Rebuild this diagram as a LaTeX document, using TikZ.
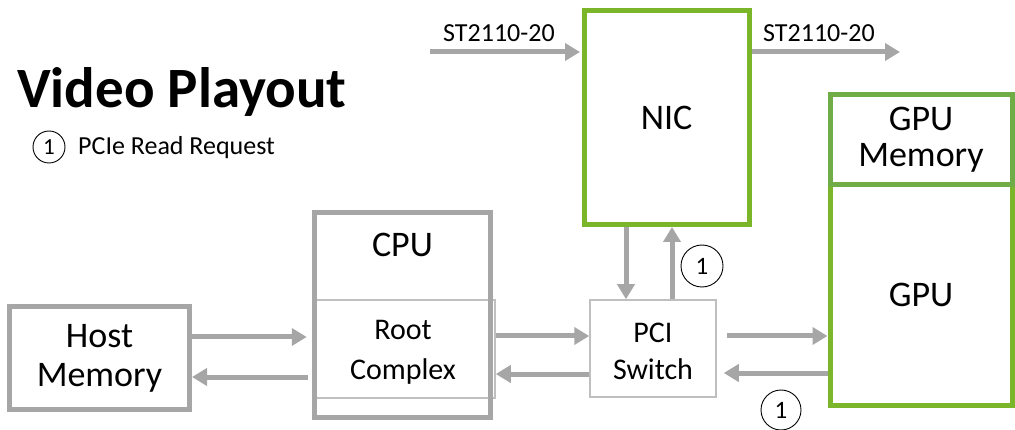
\documentclass[tikz,border=0pt]{standalone}
\usepackage{fontspec}
\setmainfont{Carlito}
\usetikzlibrary{arrows.meta}
\definecolor{arrowgray}{HTML}{A6A6A6}
\definecolor{thingray}{HTML}{BFBFBF}
\definecolor{nvgreen}{HTML}{7AB52A}
\definecolor{memgreen}{HTML}{70AD47}
\begin{document}
\begin{tikzpicture}[x=1pt,y=-1pt,
  flow/.style={line width=5pt, draw=arrowgray, -{Triangle[length=15pt,width=17pt]}},
  graybox/.style={rectangle, draw=arrowgray, line width=5pt, inner sep=0pt, align=center, font=\fontsize{36}{39}\selectfont},
  thinbox/.style={rectangle, draw=thingray, line width=1.5pt, inner sep=0pt, align=center, font=\fontsize{30}{38}\selectfont},
  greenbox/.style={rectangle, draw=nvgreen, line width=5pt, inner sep=0pt, align=center, font=\fontsize{36}{36}\selectfont},
  num/.style={circle, draw=black, line width=0.9pt, inner sep=0pt},
  lbl/.style={inner sep=0pt, anchor=base west}]
\useasboundingbox (0,0) rectangle (1015,430);

% title and legend
\node[lbl, font=\fontsize{57}{60}\selectfont\bfseries] (title) at (17,108) {Video Playout};
\node[num, minimum size=32pt, font=\fontsize{23}{23}\selectfont] (leg) at (49,147) {1};
\node[lbl, font=\fontsize{26}{30}\selectfont] (legtext) at (78,155) {PCIe Read Request};

% boxes
\node[thinbox, minimum width=180.5pt, minimum height=98pt] (rc) at (404.75,349) {};
\node[graybox, minimum width=176pt, minimum height=205pt] (cpu) at (402.5,315) {};
\node[inner sep=0pt, align=center, font=\fontsize{30}{40}\selectfont] (rclabel) at (403,352) {Root\\Complex};
\node[font=\fontsize{36}{39}\selectfont, inner sep=0pt] (cpulabel) at (402.5,245) {CPU};
\node[graybox, minimum width=180pt, minimum height=103pt] (host) at (99.5,358) {Host\\Memory};
\node[thinbox, minimum width=126pt, minimum height=97pt] (sw) at (653,348.5) {};
\node[inner sep=0pt, align=center, font=\fontsize{30}{37}\selectfont] (swlabel) at (653,351) {PCI\\Switch};
\node[greenbox, minimum width=165pt, minimum height=214pt] (nic) at (666.5,117.5) {NIC};
\node[greenbox, minimum width=182pt, minimum height=221pt] (gpu) at (921,295) {GPU};
\node[greenbox, draw=memgreen, minimum width=182pt, minimum height=89.5pt] (gmem) at (921,139.75) {GPU\\Memory};

% external stream
\coordinate (stin) at (430,52);
\coordinate (stout) at (900,52);
\draw[flow, shorten >=1.5pt] (stin) -- (nic.west |- stin);
\draw[flow] (nic.east |- stout) -- (stout);
\node[lbl, font=\fontsize{26}{30}\selectfont] (stinlbl) at (443,42) {ST2110-20};
\node[lbl, font=\fontsize{26}{30}\selectfont] (stoutlbl) at (763,42) {ST2110-20};

% host <-> root complex
\draw[flow, shorten >=7pt] (host.east |- 0,337) -- (rc.west |- 0,337);
\draw[flow, shorten <=6pt] (rc.west |- 0,377) -- (host.east |- 0,377);
% root complex <-> switch
\draw[flow] (rc.east |- 0,336) -- (sw.west |- 0,336);
\draw[flow] (sw.west |- 0,374) -- (rc.east |- 0,374);
% switch <-> gpu
\draw[flow, shorten <=10pt] (sw.east |- 0,336) -- (gpu.west |- 0,336);
\draw[flow, shorten >=7pt] (gpu.west |- 0,373) -- (sw.east |- 0,373);
% nic <-> switch
\draw[flow] (nic.south -| 626,0) -- (sw.north -| 626,0);
\draw[flow] (sw.north -| 672,0) -- (nic.south -| 672,0);

% request markers
\node[num, minimum size=42pt, font=\fontsize{25}{25}\selectfont] (req1) at (702,266) {1};
\node[num, minimum size=40pt, font=\fontsize{25}{25}\selectfont] (req2) at (781,410) {1};
\end{tikzpicture}
\end{document}
